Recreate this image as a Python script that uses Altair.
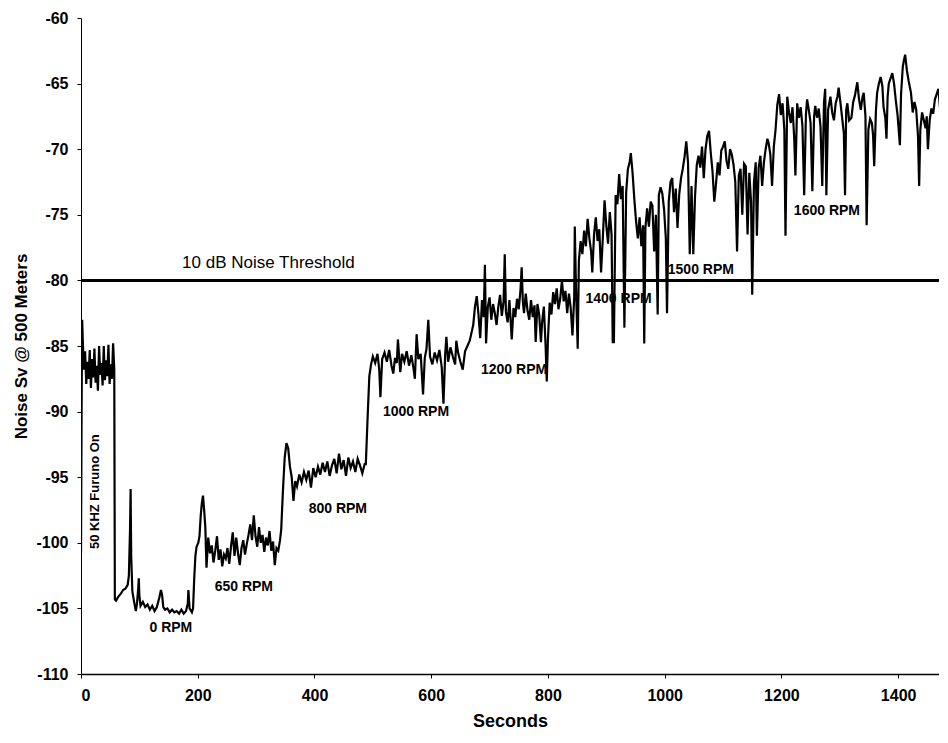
import altair as alt
import pandas as pd

# ---- data (seconds, noise Sv in dB) ----
t_furuno = [0, 1, 2, 3, 5, 7, 9, 11, 13, 15, 17, 19, 21, 23, 25, 27, 29, 31, 33, 35,
            37, 39, 41, 43, 45, 47, 49, 51, 53, 55, 57]
v_furuno = [-100.8, -90.0, -83.0, -84.5, -86.8, -85.4, -87.9, -86.2, -87.5, -85.3, -88.2,
            -86.0, -87.4, -85.2, -87.8, -86.5, -88.4, -85.0, -87.2, -86.3, -88.0, -85.0,
            -87.6, -86.1, -87.3, -84.9, -87.9, -86.4, -87.5, -84.8, -86.8]

t_rpm0 = [58, 60, 64, 68, 72, 76, 80, 82, 84, 85, 86, 88, 91, 94, 96, 98, 99, 100, 102,
          106, 110, 114, 118, 122, 126, 130, 134, 137, 139, 141, 144, 148, 152, 156, 160,
          164, 168, 172, 176, 180, 183, 184, 186, 190, 192, 194, 196, 198, 201]
v_rpm0 = [-104.3, -104.4, -104.1, -103.9, -103.6, -103.5, -103.2, -102.5, -99.0, -95.9,
          -101.0, -103.7, -104.5, -105.2, -104.6, -103.5, -102.7, -104.0, -104.8, -104.5,
          -104.9, -104.7, -105.1, -104.8, -105.2, -104.9, -104.2, -103.6, -104.0, -104.9,
          -105.1, -105.0, -105.3, -105.1, -105.3, -105.2, -105.4, -105.1, -105.4, -105.2,
          -104.6, -103.6, -105.0, -105.3, -105.0, -102.7, -101.0, -100.3, -100.0]

t_rpm650 = [203, 205, 207, 209, 211, 213, 215, 218, 221, 224, 227, 230, 233, 236, 239, 242,
            245, 248, 251, 254, 257, 260, 263, 266, 269, 272, 275, 278, 281, 284, 287, 290,
            293, 296, 299, 302, 305, 308, 311, 314, 317, 320, 323, 326, 329, 332, 335, 338, 341]
v_rpm650 = [-99.5, -98.0, -97.0, -96.4, -97.5, -98.8, -101.9, -99.6, -100.8, -100.2, -101.5,
            -100.6, -99.5, -101.3, -100.5, -101.8, -100.9, -101.2, -100.4, -101.6, -100.3,
            -99.2, -101.0, -99.6, -100.8, -101.7, -100.4, -99.8, -100.9, -100.1, -99.4, -98.6,
            -99.8, -97.9, -99.5, -100.3, -98.8, -100.0, -99.4, -100.7, -99.6, -100.2, -99.1,
            -100.6, -99.9, -101.7, -100.4, -100.6, -99.8]

t_rpm800 = [343, 346, 349, 352, 355, 358, 361, 364, 367, 370, 374, 378, 382, 386, 390, 394,
            398, 402, 406, 410, 414, 418, 422, 426, 430, 434, 438, 442, 446, 450, 454, 458,
            462, 466, 470, 474, 478, 482, 486]
v_rpm800 = [-99.0, -96.0, -93.5, -92.4, -92.8, -94.2, -95.0, -96.8, -95.3, -95.7, -94.8,
            -95.4, -94.6, -95.2, -94.5, -95.8, -94.3, -95.0, -94.2, -94.8, -93.9, -94.6,
            -93.8, -94.9, -94.1, -93.6, -94.7, -93.2, -94.4, -93.7, -94.9, -93.5, -94.3,
            -93.8, -94.6, -93.6, -94.1, -94.7, -94.0]

t_rpm1000 = [488, 491, 494, 497, 500, 504, 508, 511, 513, 516, 520, 524, 528, 532, 535, 538,
             541, 543, 545, 547, 550, 554, 558, 562, 566, 570, 572, 575, 578, 582, 586, 589,
             592, 595, 598, 602, 606, 610, 614, 618, 621, 624, 626, 629, 633, 637, 641, 643,
             646, 650, 654, 658, 662, 666]
v_rpm1000 = [-94.0, -90.5, -87.3, -86.4, -85.8, -86.3, -85.6, -86.8, -88.9, -86.0, -85.5,
             -86.2, -85.3, -86.5, -87.1, -85.9, -86.3, -84.5, -85.8, -87.0, -85.6, -86.2,
             -85.4, -86.5, -85.7, -86.8, -87.5, -84.1, -86.0, -85.6, -88.7, -85.9, -85.2,
             -83.0, -85.8, -86.4, -85.5, -86.1, -85.3, -86.6, -89.4, -85.6, -84.3, -86.2,
             -85.1, -85.8, -86.4, -84.6, -85.5, -86.2, -86.8, -85.4, -85.0, -84.6]

t_rpm1200 = [669, 672, 675, 678, 681, 684, 687, 690, 692, 694, 697, 700, 703, 706, 709, 712,
             715, 718, 721, 724, 726, 728, 731, 734, 738, 741, 744, 747, 750, 753, 755, 757,
             759, 762, 765, 768, 771, 774, 777, 779, 782, 785, 788, 790, 793, 796, 798, 800,
             803, 806, 809, 812, 815, 818, 821, 824, 827, 830, 833, 836, 839, 842, 845]
v_rpm1200 = [-84.0, -83.4, -82.0, -81.2, -82.6, -84.4, -81.5, -82.8, -78.8, -84.8, -82.0,
             -81.3, -83.0, -81.8, -82.5, -83.4, -82.0, -81.1, -82.7, -81.6, -78.0, -82.4,
             -83.2, -81.5, -84.5, -82.1, -82.8, -81.4, -82.2, -80.7, -79.0, -81.6, -82.5,
             -81.0, -82.3, -83.0, -81.5, -82.8, -81.9, -84.7, -81.8, -82.6, -84.7, -83.2,
             -82.0, -85.0, -87.7, -84.5, -81.7, -82.6, -80.9, -81.8, -80.6, -82.2, -81.4,
             -80.0, -81.6, -80.8, -82.5, -81.0, -82.1, -84.2, -81.3]

t_rpm1400 = [846, 848, 851, 853, 856, 859, 862, 865, 868, 871, 874, 876, 879, 882, 885, 888,
             891, 894, 897, 900, 903, 906, 909, 911]
v_rpm1400 = [-75.9, -80.5, -85.2, -78.5, -77.0, -78.0, -76.2, -77.4, -75.3, -76.8, -77.8,
             -79.4, -76.5, -75.2, -77.0, -76.1, -79.4, -76.8, -73.9, -75.8, -77.2, -74.8,
             -76.5, -84.7]

t_rpm1500 = [913, 916, 919, 922, 925, 928, 931, 934, 937, 940, 942, 945, 948, 951, 954, 957,
             960, 963, 965, 967, 970, 973, 976, 979, 982, 985, 988, 990, 993, 996, 999, 1002,
             1004, 1007, 1010, 1013, 1016, 1019, 1022, 1025, 1028, 1031, 1034, 1037, 1040,
             1043, 1046, 1049, 1052, 1055, 1058, 1061, 1064, 1067, 1070, 1073, 1076, 1079,
             1082, 1085, 1088, 1091, 1094, 1097, 1100, 1103, 1106, 1109, 1112, 1115, 1118,
             1121, 1124]
v_rpm1500 = [-84.7, -73.5, -74.2, -71.9, -73.8, -72.8, -83.6, -73.3, -71.5, -71.0, -70.3,
             -71.8, -73.8, -75.5, -76.8, -75.2, -77.4, -75.8, -84.8, -76.0, -74.5, -75.9,
             -74.0, -74.3, -77.8, -75.0, -82.6, -73.5, -72.9, -73.4, -74.6, -76.8, -82.5,
             -74.0, -72.5, -72.2, -74.8, -73.0, -76.0, -73.4, -72.2, -71.5, -70.6, -69.4,
             -71.0, -78.0, -72.8, -78.0, -73.6, -71.2, -70.5, -71.4, -69.8, -72.2, -70.0,
             -69.0, -68.6, -70.3, -71.7, -74.0, -72.6, -71.0, -72.0, -70.1, -69.8, -69.4,
             -70.9, -71.5, -70.0, -70.4, -71.2, -72.5, -77.8]

t_rpm1600 = [1127, 1130, 1133, 1136, 1139, 1142, 1145, 1148, 1150, 1153, 1156, 1158, 1161,
             1164, 1167, 1170, 1173, 1176, 1178, 1181, 1184, 1187, 1190, 1193, 1196, 1199,
             1202, 1205, 1207, 1210, 1213, 1216, 1219, 1222, 1224, 1227, 1230, 1233, 1236,
             1239, 1242, 1244, 1247, 1250, 1253, 1256, 1258, 1261, 1264, 1267, 1270, 1273,
             1275, 1277, 1280, 1284, 1287, 1290, 1293, 1296, 1298, 1301, 1304, 1307, 1309,
             1311, 1313, 1316, 1320, 1323, 1326, 1330, 1333, 1336, 1339, 1341, 1344, 1346,
             1349, 1352, 1355, 1357, 1359, 1362, 1364, 1367, 1370, 1373, 1375, 1378, 1380,
             1382, 1384, 1387, 1390, 1393, 1396, 1399, 1403, 1405, 1408, 1410, 1412, 1415,
             1418, 1422, 1425, 1428, 1431, 1434, 1436, 1438, 1441, 1444, 1447, 1449, 1451,
             1454, 1457, 1460, 1463, 1466, 1469, 1472, 1475, 1478]
v_rpm1600 = [-72.0, -71.5, -75.0, -71.1, -71.3, -76.5, -71.8, -74.0, -81.1, -72.5, -71.0,
             -76.6, -71.4, -70.5, -72.8, -71.0, -70.0, -69.2, -69.5, -70.4, -72.8, -69.8,
             -68.5, -66.6, -65.8, -67.4, -66.5, -68.5, -76.6, -66.0, -67.2, -68.0, -66.8,
             -69.2, -72.0, -66.5, -67.6, -66.8, -68.2, -73.5, -67.4, -66.2, -67.0, -68.0,
             -73.2, -67.5, -66.7, -67.6, -66.9, -68.3, -72.8, -66.4, -65.4, -73.5, -67.0,
             -66.0, -67.2, -67.8, -66.5, -66.0, -65.3, -66.4, -67.6, -68.8, -73.5, -67.0,
             -66.5, -67.8, -67.6, -66.4, -65.9, -64.9, -66.2, -67.0, -66.0, -65.7, -67.5,
             -75.8, -68.5, -67.7, -68.0, -68.9, -71.3, -67.0, -65.7, -65.0, -64.5, -65.2,
             -66.8, -67.6, -69.2, -66.0, -65.0, -64.6, -64.2, -65.0, -66.3, -67.4, -69.7,
             -65.8, -63.7, -63.2, -62.8, -64.0, -64.8, -65.7, -67.2, -66.4, -67.0, -69.0,
             -72.8, -68.5, -67.2, -67.8, -68.4, -67.5, -70.0, -67.8, -66.9, -67.3, -66.2,
             -65.8, -65.4, -67.0, -72.0, -66.7]

threshold_db = -80
x_ticks = [0, 200, 400, 600, 800, 1000, 1200, 1400]
y_ticks = [-110, -105, -100, -95, -90, -85, -80, -75, -70, -65, -60]

rpm_labels = ["0 RPM", "650 RPM", "800 RPM", "1000 RPM", "1200 RPM", "1400 RPM",
              "1500 RPM", "1600 RPM"]
rpm_label_t = [154, 279, 440, 574, 742, 921, 1062, 1278]
rpm_label_v = [-106.5, -103.4, -97.4, -90.0, -86.8, -81.45, -79.2, -74.7]

threshold_label = "10 dB Noise Threshold"
threshold_label_t = 321
threshold_label_v = -78.65

furuno_label = "50 KHZ Furuno On"
furuno_label_t = 24.5
furuno_label_v = -96.1

# ---- build tables ----
seconds = (t_furuno + t_rpm0 + t_rpm650 + t_rpm800 + t_rpm1000 + t_rpm1200 +
           t_rpm1400 + t_rpm1500 + t_rpm1600)
noise = (v_furuno + v_rpm0 + v_rpm650 + v_rpm800 + v_rpm1000 + v_rpm1200 +
         v_rpm1400 + v_rpm1500 + v_rpm1600)
df = pd.DataFrame({"t": seconds, "v": noise})
df_rpm = pd.DataFrame({"label": rpm_labels, "t": rpm_label_t, "v": rpm_label_v})
df_thr = pd.DataFrame({"v": [threshold_db]})
df_thr_lbl = pd.DataFrame({"label": [threshold_label], "t": [threshold_label_t],
                           "v": [threshold_label_v]})
df_fur = pd.DataFrame({"label": [furuno_label], "t": [furuno_label_t], "v": [furuno_label_v]})

FONT = "Liberation Sans"
xscale = alt.Scale(domain=[0, 1470], nice=False, zero=False)
yscale = alt.Scale(domain=[-110, -60], nice=False, zero=False)

x_enc = alt.X("t:Q", scale=xscale, axis=alt.Axis(
    values=x_ticks, title="Seconds", labelExpr="toString(datum.value)", grid=False,
    domainColor="black", domainWidth=1.5, tickColor="black", tickSize=4, tickWidth=1,
    labelFont=FONT, labelFontSize=16, labelFontWeight="bold", labelColor="black",
    labelPadding=9, titleFont=FONT, titleFontSize=18, titleFontWeight="bold",
    titleColor="black", titlePadding=9))
y_enc = alt.Y("v:Q", scale=yscale, axis=alt.Axis(
    values=y_ticks, title="Noise Sv @ 500 Meters", labelExpr="toString(datum.value)",
    grid=False, domainColor="black", domainWidth=1, tickColor="black", tickSize=4,
    tickWidth=1, labelFont=FONT, labelFontSize=16, labelFontWeight="bold",
    labelColor="black", labelPadding=9, titleFont=FONT, titleFontSize=17,
    titleFontWeight="bold", titleColor="black", titlePadding=5))

line = alt.Chart(df).mark_line(color="black", strokeWidth=2.2, clip=True).encode(
    x=x_enc, y=y_enc)

rule = alt.Chart(df_thr).mark_rule(color="black", strokeWidth=3).encode(
    y=alt.Y("v:Q", scale=yscale))

rpm_text = alt.Chart(df_rpm).mark_text(
    font=FONT, fontSize=14, fontWeight="bold", color="black",
    align="center", baseline="middle").encode(
    x=alt.X("t:Q", scale=xscale), y=alt.Y("v:Q", scale=yscale), text="label:N")

thr_text = alt.Chart(df_thr_lbl).mark_text(
    font=FONT, fontSize=17, color="black", align="center", baseline="middle").encode(
    x=alt.X("t:Q", scale=xscale), y=alt.Y("v:Q", scale=yscale), text="label:N")

fur_text = alt.Chart(df_fur).mark_text(
    font=FONT, fontSize=13, fontWeight="bold", color="black", angle=270,
    align="center", baseline="middle").encode(
    x=alt.X("t:Q", scale=xscale), y=alt.Y("v:Q", scale=yscale), text="label:N")

chart = alt.layer(line, rule, rpm_text, thr_text, fur_text).properties(
    width=858, height=656,
    autosize=alt.AutoSizeParams(type="none"),
    padding={"left": 73, "top": 10, "right": 0, "bottom": 60},
    background="white",
).configure_view(stroke=None)

chart.save("out.html", embed_options={"renderer": "svg", "actions": False})
